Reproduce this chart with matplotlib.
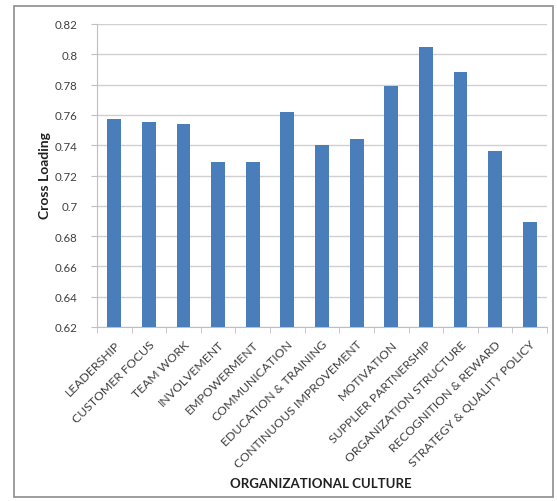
import matplotlib
matplotlib.use("Agg")
import matplotlib.pyplot as plt
from matplotlib.patches import Rectangle
import numpy as np

categories = ["LEADERSHIP", "CUSTOMER FOCUS", "TEAM WORK", "INVOLVEMENT", "EMPOWERMENT",
              "COMMUNICATION", "EDUCATION & TRAINING", "CONTINUOUS IMPROVEMENT", "MOTIVATION",
              "SUPPLIER PARTNERSHIP", "ORGANIZATION STRUCTURE", "RECOGNITION & REWARD",
              "STRATEGY & QUALITY POLICY"]
values = [0.757, 0.755, 0.754, 0.729, 0.729, 0.762, 0.740, 0.744, 0.779, 0.805, 0.788, 0.736, 0.689]
yticks = [0.62, 0.64, 0.66, 0.68, 0.70, 0.72, 0.74, 0.76, 0.78, 0.80, 0.82]
ytick_labels = ["0.62", "0.64", "0.66", "0.68", "0.7", "0.72", "0.74", "0.76", "0.78", "0.8", "0.82"]

plt.rcParams['font.family'] = ['Lato', 'DejaVu Sans']

fig = plt.figure(figsize=(5.57, 5.02), dpi=100)
fig.patch.set_facecolor('white')
fig.add_artist(Rectangle((14/557, 1-498/502), (553-14)/557, (498-7)/502,
                         transform=fig.transFigure, fill=False, edgecolor='#8c8c8c', lw=1.2))

ax = fig.add_axes([97/557, 1-328/502, (547-97)/557, (328-25)/502])
x = np.arange(len(categories))
ax.bar(x, values, width=0.4, color='#4a7ebb', zorder=3)
ax.set_xlim(-0.5, len(categories)-0.5)
ax.set_ylim(0.62, 0.82)
ax.set_yticks(yticks)
ax.set_yticklabels(ytick_labels, fontsize=8.3, color='#404040')
ax.set_xticks(x)
ax.set_xticklabels(categories, rotation=45, ha='right', rotation_mode='anchor',
                   fontsize=8.8, color='#404040')
ax.tick_params(axis='x', length=0, pad=8)
ax.set_xticks(np.arange(-0.5, len(categories), 1), minor=True)
ax.tick_params(axis='x', which='minor', length=4, color='#bfbfbf', direction='out')
ax.tick_params(axis='y', length=4, color='#bfbfbf', direction='out', pad=10)
ax.grid(axis='y', color='#d0d0d0', lw=1, zorder=0)
for s in ['top', 'right']:
    ax.spines[s].set_visible(False)
ax.spines['left'].set_color('#bfbfbf')
ax.spines['bottom'].set_color('#bfbfbf')
fig.text(45/557, 1-176/502, "Cross Loading", rotation=90, ha='center', va='center',
         fontsize=10, fontweight='bold', color='#202020')
fig.text(321/557, 1-484/502, "ORGANIZATIONAL CULTURE", ha='center', va='center',
         fontsize=9.5, fontweight='bold', color='#202020')

fig.savefig("out.png", dpi=100)
